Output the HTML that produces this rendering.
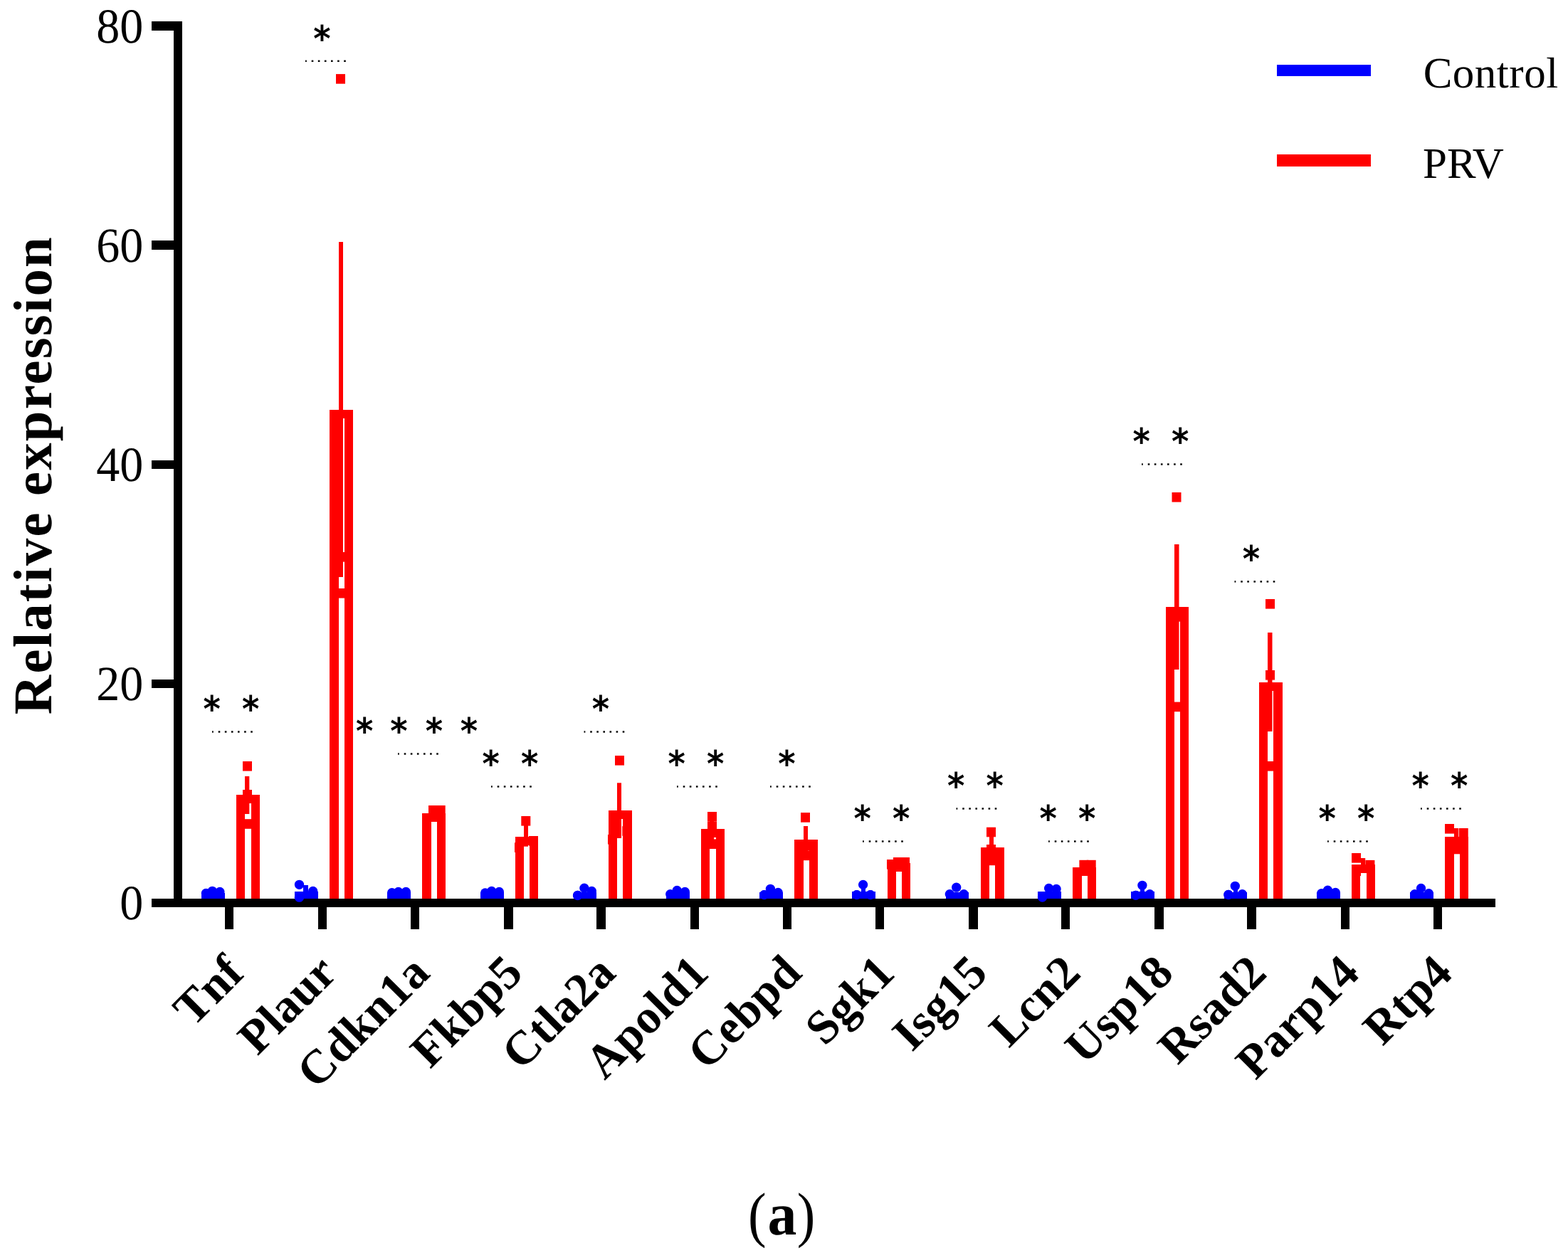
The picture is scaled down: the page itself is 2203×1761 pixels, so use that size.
<!DOCTYPE html>
<html lang="en"><head><meta charset="utf-8"><title>Relative expression</title>
<style>
html,body{margin:0;padding:0;background:#fff;}
body{width:2203px;height:1761px;overflow:hidden;font-family:'Liberation Serif',serif;}
svg{display:block;}
</style></head>
<body>
<svg width="2203" height="1761" viewBox="0 0 2203 1761" shape-rendering="crispEdges" text-rendering="geometricPrecision">
<rect width="2203" height="1761" fill="#fff"/>
<g id="bars">
<rect x="283" y="1255" width="33" height="8" fill="#0000ff"/>
<circle cx="289.4" cy="1255.5" r="6.65" fill="#0000ff" shape-rendering="geometricPrecision"/>
<circle cx="298.3" cy="1252.3" r="6.65" fill="#0000ff" shape-rendering="geometricPrecision"/>
<circle cx="308.9" cy="1253.4" r="6.65" fill="#0000ff" shape-rendering="geometricPrecision"/>
<rect x="332" y="1117" width="33" height="146" fill="#ff0000"/>
<rect x="344" y="1129" width="9" height="134" fill="#fff"/>
<rect x="344" y="1091" width="6.3" height="53" fill="#ff0000" shape-rendering="geometricPrecision"/>
<rect x="341" y="1070" width="13" height="13.6" fill="#ff0000" shape-rendering="geometricPrecision"/>
<rect x="341" y="1110" width="13" height="13.6" fill="#ff0000" shape-rendering="geometricPrecision"/>
<rect x="341" y="1151.2" width="13" height="13.6" fill="#ff0000" shape-rendering="geometricPrecision"/>
<rect x="414" y="1253" width="33" height="10" fill="#0000ff"/>
<rect x="426" y="1244" width="7" height="10" fill="#0000ff"/>
<circle cx="420.5" cy="1243.3" r="6.65" fill="#0000ff" shape-rendering="geometricPrecision"/>
<circle cx="439.7" cy="1252.4" r="6.65" fill="#0000ff" shape-rendering="geometricPrecision"/>
<circle cx="420.5" cy="1261.2" r="6.65" fill="#0000ff" shape-rendering="geometricPrecision"/>
<rect x="463" y="576" width="33" height="687" fill="#ff0000"/>
<rect x="476" y="588" width="8" height="675" fill="#fff"/>
<rect x="476" y="340" width="6" height="471" fill="#ff0000" shape-rendering="geometricPrecision"/>
<rect x="472" y="104.1" width="13" height="13.6" fill="#ff0000" shape-rendering="geometricPrecision"/>
<rect x="472.5" y="776" width="13" height="13.6" fill="#ff0000" shape-rendering="geometricPrecision"/>
<rect x="472.5" y="827" width="13" height="13.6" fill="#ff0000" shape-rendering="geometricPrecision"/>
<rect x="544" y="1254" width="33" height="9" fill="#0000ff"/>
<circle cx="550.65" cy="1254.6" r="6.65" fill="#0000ff" shape-rendering="geometricPrecision"/>
<circle cx="559.7" cy="1253.5" r="6.65" fill="#0000ff" shape-rendering="geometricPrecision"/>
<circle cx="570.35" cy="1253.5" r="6.65" fill="#0000ff" shape-rendering="geometricPrecision"/>
<rect x="593" y="1143" width="33" height="120" fill="#ff0000"/>
<rect x="606" y="1155" width="8" height="108" fill="#fff"/>
<rect x="602" y="1132" width="13" height="13.6" fill="#ff0000" shape-rendering="geometricPrecision"/>
<rect x="612.7" y="1132" width="13" height="13.6" fill="#ff0000" shape-rendering="geometricPrecision"/>
<rect x="607" y="1134" width="13" height="13.6" fill="#ff0000" shape-rendering="geometricPrecision"/>
<rect x="675" y="1254" width="33" height="9" fill="#0000ff"/>
<circle cx="681.65" cy="1255" r="6.65" fill="#0000ff" shape-rendering="geometricPrecision"/>
<circle cx="690.7" cy="1252.4" r="6.65" fill="#0000ff" shape-rendering="geometricPrecision"/>
<circle cx="701.35" cy="1253.5" r="6.65" fill="#0000ff" shape-rendering="geometricPrecision"/>
<rect x="724" y="1176" width="32" height="87" fill="#ff0000"/>
<rect x="736" y="1188" width="8" height="75" fill="#fff"/>
<rect x="736" y="1160" width="6" height="29.7" fill="#ff0000" shape-rendering="geometricPrecision"/>
<rect x="732.3" y="1147" width="13" height="13.6" fill="#ff0000" shape-rendering="geometricPrecision"/>
<rect x="723" y="1184.3" width="13" height="13.6" fill="#ff0000" shape-rendering="geometricPrecision"/>
<rect x="743" y="1175" width="13" height="13.6" fill="#ff0000" shape-rendering="geometricPrecision"/>
<rect x="806" y="1254" width="32" height="9" fill="#0000ff"/>
<circle cx="811.6" cy="1258.5" r="6.65" fill="#0000ff" shape-rendering="geometricPrecision"/>
<circle cx="820.9" cy="1248.2" r="6.65" fill="#0000ff" shape-rendering="geometricPrecision"/>
<circle cx="831.35" cy="1252.4" r="6.65" fill="#0000ff" shape-rendering="geometricPrecision"/>
<rect x="855" y="1139" width="33" height="124" fill="#ff0000"/>
<rect x="867" y="1151" width="8" height="112" fill="#fff"/>
<rect x="867" y="1100.3" width="6" height="77.7" fill="#ff0000" shape-rendering="geometricPrecision"/>
<rect x="864" y="1062" width="13" height="13.6" fill="#ff0000" shape-rendering="geometricPrecision"/>
<rect x="854" y="1173" width="13" height="13.6" fill="#ff0000" shape-rendering="geometricPrecision"/>
<rect x="874.3" y="1161.2" width="13" height="13.6" fill="#ff0000" shape-rendering="geometricPrecision"/>
<rect x="936" y="1254" width="33" height="9" fill="#0000ff"/>
<circle cx="941.7" cy="1256.6" r="6.65" fill="#0000ff" shape-rendering="geometricPrecision"/>
<circle cx="951.2" cy="1251.4" r="6.65" fill="#0000ff" shape-rendering="geometricPrecision"/>
<circle cx="962.35" cy="1253.5" r="6.65" fill="#0000ff" shape-rendering="geometricPrecision"/>
<rect x="985" y="1165" width="33" height="98" fill="#ff0000"/>
<rect x="997" y="1177" width="9" height="86" fill="#fff"/>
<rect x="997" y="1150" width="6" height="31" fill="#ff0000" shape-rendering="geometricPrecision"/>
<rect x="994" y="1141" width="13" height="13.6" fill="#ff0000" shape-rendering="geometricPrecision"/>
<rect x="994" y="1154.6" width="13" height="13.6" fill="#ff0000" shape-rendering="geometricPrecision"/>
<rect x="994" y="1179.4" width="13" height="13.6" fill="#ff0000" shape-rendering="geometricPrecision"/>
<rect x="1067" y="1254" width="33" height="9" fill="#0000ff"/>
<circle cx="1073.7" cy="1257.6" r="6.65" fill="#0000ff" shape-rendering="geometricPrecision"/>
<circle cx="1082.4" cy="1249.3" r="6.65" fill="#0000ff" shape-rendering="geometricPrecision"/>
<circle cx="1093.2" cy="1254.5" r="6.65" fill="#0000ff" shape-rendering="geometricPrecision"/>
<rect x="1116" y="1180" width="33" height="83" fill="#ff0000"/>
<rect x="1129" y="1192" width="8" height="71" fill="#fff"/>
<rect x="1129" y="1161" width="6" height="38" fill="#ff0000" shape-rendering="geometricPrecision"/>
<rect x="1125" y="1142.1" width="13" height="13.6" fill="#ff0000" shape-rendering="geometricPrecision"/>
<rect x="1125" y="1182" width="13" height="13.6" fill="#ff0000" shape-rendering="geometricPrecision"/>
<rect x="1125" y="1195.6" width="13" height="13.6" fill="#ff0000" shape-rendering="geometricPrecision"/>
<rect x="1197" y="1253" width="33" height="10" fill="#0000ff"/>
<rect x="1210" y="1244" width="6" height="10" fill="#0000ff"/>
<circle cx="1203.7" cy="1257.6" r="6.65" fill="#0000ff" shape-rendering="geometricPrecision"/>
<circle cx="1212.6" cy="1243.4" r="6.65" fill="#0000ff" shape-rendering="geometricPrecision"/>
<circle cx="1222.9" cy="1257.6" r="6.65" fill="#0000ff" shape-rendering="geometricPrecision"/>
<rect x="1247" y="1213" width="32" height="50" fill="#ff0000"/>
<rect x="1259" y="1225" width="8" height="38" fill="#fff"/>
<rect x="1246" y="1208" width="13" height="13.6" fill="#ff0000" shape-rendering="geometricPrecision"/>
<rect x="1255" y="1205" width="13" height="13.6" fill="#ff0000" shape-rendering="geometricPrecision"/>
<rect x="1265" y="1205" width="13" height="13.6" fill="#ff0000" shape-rendering="geometricPrecision"/>
<rect x="1329" y="1254" width="32" height="9" fill="#0000ff"/>
<circle cx="1334.3" cy="1256.6" r="6.65" fill="#0000ff" shape-rendering="geometricPrecision"/>
<circle cx="1343.7" cy="1247.2" r="6.65" fill="#0000ff" shape-rendering="geometricPrecision"/>
<circle cx="1354.2" cy="1256.6" r="6.65" fill="#0000ff" shape-rendering="geometricPrecision"/>
<rect x="1378" y="1191" width="33" height="72" fill="#ff0000"/>
<rect x="1390" y="1203" width="8" height="60" fill="#fff"/>
<rect x="1390" y="1175" width="6" height="32" fill="#ff0000" shape-rendering="geometricPrecision"/>
<rect x="1386" y="1162.7" width="13" height="13.6" fill="#ff0000" shape-rendering="geometricPrecision"/>
<rect x="1386" y="1187" width="13" height="13.6" fill="#ff0000" shape-rendering="geometricPrecision"/>
<rect x="1386" y="1202.6" width="13" height="13.6" fill="#ff0000" shape-rendering="geometricPrecision"/>
<rect x="1458" y="1253" width="33" height="10" fill="#0000ff"/>
<circle cx="1473.6" cy="1248.5" r="6.65" fill="#0000ff" shape-rendering="geometricPrecision"/>
<circle cx="1484.1" cy="1249.5" r="6.65" fill="#0000ff" shape-rendering="geometricPrecision"/>
<circle cx="1464.5" cy="1261.1" r="6.65" fill="#0000ff" shape-rendering="geometricPrecision"/>
<rect x="1507" y="1219" width="33" height="44" fill="#ff0000"/>
<rect x="1520" y="1231" width="8" height="32" fill="#fff"/>
<rect x="1516.4" y="1208.8" width="13" height="13.6" fill="#ff0000" shape-rendering="geometricPrecision"/>
<rect x="1526.7" y="1208.8" width="13" height="13.6" fill="#ff0000" shape-rendering="geometricPrecision"/>
<rect x="1507" y="1219.4" width="13" height="13.6" fill="#ff0000" shape-rendering="geometricPrecision"/>
<rect x="1589" y="1253" width="33" height="10" fill="#0000ff"/>
<rect x="1602" y="1246" width="6" height="8" fill="#0000ff"/>
<circle cx="1595.7" cy="1258.3" r="6.65" fill="#0000ff" shape-rendering="geometricPrecision"/>
<circle cx="1604.9" cy="1244.3" r="6.65" fill="#0000ff" shape-rendering="geometricPrecision"/>
<circle cx="1615.4" cy="1256.6" r="6.65" fill="#0000ff" shape-rendering="geometricPrecision"/>
<rect x="1638" y="853" width="32" height="410" fill="#ff0000"/>
<rect x="1650" y="865" width="8" height="398" fill="#fff"/>
<rect x="1650" y="765" width="6.5" height="176" fill="#ff0000" shape-rendering="geometricPrecision"/>
<rect x="1646.5" y="692" width="13" height="13.6" fill="#ff0000" shape-rendering="geometricPrecision"/>
<rect x="1647" y="860" width="13" height="13.6" fill="#ff0000" shape-rendering="geometricPrecision"/>
<rect x="1647" y="986.6" width="13" height="13.6" fill="#ff0000" shape-rendering="geometricPrecision"/>
<rect x="1720" y="1254" width="32" height="9" fill="#0000ff"/>
<rect x="1732.5" y="1247" width="6" height="8" fill="#0000ff"/>
<circle cx="1725.9" cy="1257.5" r="6.65" fill="#0000ff" shape-rendering="geometricPrecision"/>
<circle cx="1735.3" cy="1245.3" r="6.65" fill="#0000ff" shape-rendering="geometricPrecision"/>
<circle cx="1745.4" cy="1256.6" r="6.65" fill="#0000ff" shape-rendering="geometricPrecision"/>
<rect x="1769" y="959" width="33" height="304" fill="#ff0000"/>
<rect x="1781" y="971" width="8" height="292" fill="#fff"/>
<rect x="1781" y="889" width="6.5" height="139" fill="#ff0000" shape-rendering="geometricPrecision"/>
<rect x="1778" y="842" width="13" height="13.6" fill="#ff0000" shape-rendering="geometricPrecision"/>
<rect x="1778" y="942" width="13" height="13.6" fill="#ff0000" shape-rendering="geometricPrecision"/>
<rect x="1778" y="1070" width="13" height="13.6" fill="#ff0000" shape-rendering="geometricPrecision"/>
<rect x="1850" y="1254" width="33" height="9" fill="#0000ff"/>
<circle cx="1856.6" cy="1255.6" r="6.65" fill="#0000ff" shape-rendering="geometricPrecision"/>
<circle cx="1865.4" cy="1251.2" r="6.65" fill="#0000ff" shape-rendering="geometricPrecision"/>
<circle cx="1876.3" cy="1254.5" r="6.65" fill="#0000ff" shape-rendering="geometricPrecision"/>
<rect x="1899" y="1215" width="33" height="48" fill="#ff0000"/>
<rect x="1911" y="1227" width="9" height="36" fill="#fff"/>
<rect x="1912" y="1206" width="6.2" height="16" fill="#ff0000" shape-rendering="geometricPrecision"/>
<rect x="1899" y="1199" width="13" height="13.6" fill="#ff0000" shape-rendering="geometricPrecision"/>
<rect x="1918.4" y="1208.9" width="13" height="13.6" fill="#ff0000" shape-rendering="geometricPrecision"/>
<rect x="1899" y="1217.5" width="13" height="13.6" fill="#ff0000" shape-rendering="geometricPrecision"/>
<rect x="1981" y="1254" width="33" height="9" fill="#0000ff"/>
<circle cx="1987.65" cy="1256.7" r="6.65" fill="#0000ff" shape-rendering="geometricPrecision"/>
<circle cx="1996.5" cy="1248.4" r="6.65" fill="#0000ff" shape-rendering="geometricPrecision"/>
<circle cx="2007.35" cy="1255.7" r="6.65" fill="#0000ff" shape-rendering="geometricPrecision"/>
<rect x="2030" y="1176" width="33" height="87" fill="#ff0000"/>
<rect x="2043" y="1188" width="8" height="75" fill="#fff"/>
<rect x="2043" y="1164" width="6" height="26" fill="#ff0000" shape-rendering="geometricPrecision"/>
<rect x="2030" y="1158" width="13" height="13.6" fill="#ff0000" shape-rendering="geometricPrecision"/>
<rect x="2049.7" y="1164" width="13" height="13.6" fill="#ff0000" shape-rendering="geometricPrecision"/>
<rect x="2040" y="1186.7" width="13" height="13.6" fill="#ff0000" shape-rendering="geometricPrecision"/>
</g>
<g id="axes" fill="#000">
<rect x="244" y="30" width="12" height="1245"/>
<rect x="213" y="1263" width="1888" height="12"/>
<rect x="213" y="30" width="32" height="13"/>
<rect x="213" y="338" width="32" height="13"/>
<rect x="213" y="647" width="32" height="12"/>
<rect x="213" y="955" width="32" height="12"/>
<rect x="316" y="1274" width="12" height="32"/>
<rect x="447" y="1274" width="12" height="32"/>
<rect x="577" y="1274" width="12" height="32"/>
<rect x="708" y="1274" width="13" height="32"/>
<rect x="838" y="1274" width="13" height="32"/>
<rect x="970" y="1274" width="12" height="32"/>
<rect x="1100" y="1274" width="12" height="32"/>
<rect x="1230" y="1274" width="12" height="32"/>
<rect x="1361" y="1274" width="13" height="32"/>
<rect x="1491" y="1274" width="12" height="32"/>
<rect x="1622" y="1274" width="13" height="32"/>
<rect x="1752" y="1274" width="13" height="32"/>
<rect x="1884" y="1274" width="12" height="32"/>
<rect x="2014" y="1274" width="12" height="32"/>
</g>
<g id="front">
<circle cx="420.5" cy="1261.2" r="6.65" fill="#0000ff" shape-rendering="geometricPrecision"/>
<circle cx="811.6" cy="1258.5" r="6.65" fill="#0000ff" shape-rendering="geometricPrecision"/>
<circle cx="1073.7" cy="1257.6" r="6.65" fill="#0000ff" shape-rendering="geometricPrecision"/>
<circle cx="1203.7" cy="1257.6" r="6.65" fill="#0000ff" shape-rendering="geometricPrecision"/>
<circle cx="1222.9" cy="1257.6" r="6.65" fill="#0000ff" shape-rendering="geometricPrecision"/>
<circle cx="1464.5" cy="1261.1" r="6.65" fill="#0000ff" shape-rendering="geometricPrecision"/>
<circle cx="1595.7" cy="1258.3" r="6.65" fill="#0000ff" shape-rendering="geometricPrecision"/>
<circle cx="1725.9" cy="1257.5" r="6.65" fill="#0000ff" shape-rendering="geometricPrecision"/>
</g>
<g id="ylabels" font-family="'Liberation Serif','Times New Roman',Times,serif" font-size="69" text-anchor="end" fill="#000">
<text transform="translate(201.2,1291.6) scale(0.957,1)">0</text>
<text transform="translate(201.2,983.9) scale(0.957,1)">20</text>
<text transform="translate(201.2,675.7) scale(0.957,1)">40</text>
<text transform="translate(201.2,367.9) scale(0.957,1)">60</text>
<text transform="translate(201.2,60.2) scale(0.957,1)">80</text>
</g>
<text transform="translate(71.5,667.7) rotate(-90)" font-family="'Liberation Serif','Times New Roman',Times,serif" font-weight="bold" font-size="76.7" letter-spacing="2.2" text-anchor="middle" fill="#000">Relative expression</text>
<g id="xlabels" font-family="'Liberation Serif','Times New Roman',Times,serif" font-weight="bold" font-size="67" letter-spacing="0.4" text-anchor="end" fill="#000">
<text transform="translate(345.6,1370.2) rotate(-45)">Tnf</text>
<text transform="translate(476.22,1370.2) rotate(-45)">Plaur</text>
<text transform="translate(606.84,1370.2) rotate(-45)">Cdkn1a</text>
<text transform="translate(737.46,1370.2) rotate(-45)">Fkbp5</text>
<text transform="translate(868.08,1370.2) rotate(-45)">Ctla2a</text>
<text transform="translate(998.7,1370.2) rotate(-45)">Apold1</text>
<text transform="translate(1129.32,1370.2) rotate(-45)">Cebpd</text>
<text transform="translate(1259.94,1370.2) rotate(-45)">Sgk1</text>
<text transform="translate(1390.56,1370.2) rotate(-45)">Isg15</text>
<text transform="translate(1521.18,1370.2) rotate(-45)">Lcn2</text>
<text transform="translate(1651.8,1370.2) rotate(-45)">Usp18</text>
<text transform="translate(1782.42,1370.2) rotate(-45)">Rsad2</text>
<text transform="translate(1913.04,1370.2) rotate(-45)">Parp14</text>
<text transform="translate(2043.66,1370.2) rotate(-45)">Rtp4</text>
</g>
<g id="sig" font-family="'DejaVu Sans',sans-serif" font-weight="bold" font-size="48" text-anchor="middle" fill="#000">
<text transform="translate(297.75,1014.3) scale(0.97,1.05)">*</text>
<text transform="translate(352.05,1014.3) scale(0.97,1.05)">*</text>
<rect x="298" y="1027.3" width="1.8" height="2.4" shape-rendering="geometricPrecision"/>
<rect x="306.7" y="1027.3" width="2.6" height="2.4" shape-rendering="geometricPrecision"/>
<rect x="315.8" y="1027.3" width="2.6" height="2.4" shape-rendering="geometricPrecision"/>
<rect x="324.9" y="1027.3" width="2.6" height="2.4" shape-rendering="geometricPrecision"/>
<rect x="334" y="1027.3" width="2.6" height="2.4" shape-rendering="geometricPrecision"/>
<rect x="343.1" y="1027.3" width="2.6" height="2.4" shape-rendering="geometricPrecision"/>
<rect x="352.2" y="1027.3" width="2.6" height="2.4" shape-rendering="geometricPrecision"/>
<text transform="translate(452.5,71.6) scale(0.97,1.05)">*</text>
<rect x="429" y="84.6" width="1.8" height="2.4" shape-rendering="geometricPrecision"/>
<rect x="437.7" y="84.6" width="2.6" height="2.4" shape-rendering="geometricPrecision"/>
<rect x="446.8" y="84.6" width="2.6" height="2.4" shape-rendering="geometricPrecision"/>
<rect x="455.9" y="84.6" width="2.6" height="2.4" shape-rendering="geometricPrecision"/>
<rect x="465" y="84.6" width="2.6" height="2.4" shape-rendering="geometricPrecision"/>
<rect x="474.1" y="84.6" width="2.6" height="2.4" shape-rendering="geometricPrecision"/>
<rect x="483.2" y="84.6" width="2.6" height="2.4" shape-rendering="geometricPrecision"/>
<text transform="translate(512.2,1045.3) scale(0.97,1.05)">*</text>
<text transform="translate(560.5,1045.3) scale(0.97,1.05)">*</text>
<text transform="translate(609.9,1045.3) scale(0.97,1.05)">*</text>
<text transform="translate(658.9,1045.3) scale(0.97,1.05)">*</text>
<rect x="559" y="1058.3" width="1.8" height="2.4" shape-rendering="geometricPrecision"/>
<rect x="567.7" y="1058.3" width="2.6" height="2.4" shape-rendering="geometricPrecision"/>
<rect x="576.8" y="1058.3" width="2.6" height="2.4" shape-rendering="geometricPrecision"/>
<rect x="585.9" y="1058.3" width="2.6" height="2.4" shape-rendering="geometricPrecision"/>
<rect x="595" y="1058.3" width="2.6" height="2.4" shape-rendering="geometricPrecision"/>
<rect x="604.1" y="1058.3" width="2.6" height="2.4" shape-rendering="geometricPrecision"/>
<rect x="613.2" y="1058.3" width="2.6" height="2.4" shape-rendering="geometricPrecision"/>
<text transform="translate(689.75,1091.3) scale(0.97,1.05)">*</text>
<text transform="translate(744.05,1091.3) scale(0.97,1.05)">*</text>
<rect x="690" y="1104.3" width="1.8" height="2.4" shape-rendering="geometricPrecision"/>
<rect x="698.7" y="1104.3" width="2.6" height="2.4" shape-rendering="geometricPrecision"/>
<rect x="707.8" y="1104.3" width="2.6" height="2.4" shape-rendering="geometricPrecision"/>
<rect x="716.9" y="1104.3" width="2.6" height="2.4" shape-rendering="geometricPrecision"/>
<rect x="726" y="1104.3" width="2.6" height="2.4" shape-rendering="geometricPrecision"/>
<rect x="735.1" y="1104.3" width="2.6" height="2.4" shape-rendering="geometricPrecision"/>
<rect x="744.2" y="1104.3" width="2.6" height="2.4" shape-rendering="geometricPrecision"/>
<text transform="translate(844,1014.3) scale(0.97,1.05)">*</text>
<rect x="820.5" y="1027.3" width="1.8" height="2.4" shape-rendering="geometricPrecision"/>
<rect x="829.2" y="1027.3" width="2.6" height="2.4" shape-rendering="geometricPrecision"/>
<rect x="838.3" y="1027.3" width="2.6" height="2.4" shape-rendering="geometricPrecision"/>
<rect x="847.4" y="1027.3" width="2.6" height="2.4" shape-rendering="geometricPrecision"/>
<rect x="856.5" y="1027.3" width="2.6" height="2.4" shape-rendering="geometricPrecision"/>
<rect x="865.6" y="1027.3" width="2.6" height="2.4" shape-rendering="geometricPrecision"/>
<rect x="874.7" y="1027.3" width="2.6" height="2.4" shape-rendering="geometricPrecision"/>
<text transform="translate(950.75,1091.3) scale(0.97,1.05)">*</text>
<text transform="translate(1005.05,1091.3) scale(0.97,1.05)">*</text>
<rect x="951" y="1104.3" width="1.8" height="2.4" shape-rendering="geometricPrecision"/>
<rect x="959.7" y="1104.3" width="2.6" height="2.4" shape-rendering="geometricPrecision"/>
<rect x="968.8" y="1104.3" width="2.6" height="2.4" shape-rendering="geometricPrecision"/>
<rect x="977.9" y="1104.3" width="2.6" height="2.4" shape-rendering="geometricPrecision"/>
<rect x="987" y="1104.3" width="2.6" height="2.4" shape-rendering="geometricPrecision"/>
<rect x="996.1" y="1104.3" width="2.6" height="2.4" shape-rendering="geometricPrecision"/>
<rect x="1005.2" y="1104.3" width="2.6" height="2.4" shape-rendering="geometricPrecision"/>
<text transform="translate(1105.5,1091.3) scale(0.97,1.05)">*</text>
<rect x="1082" y="1104.3" width="1.8" height="2.4" shape-rendering="geometricPrecision"/>
<rect x="1090.7" y="1104.3" width="2.6" height="2.4" shape-rendering="geometricPrecision"/>
<rect x="1099.8" y="1104.3" width="2.6" height="2.4" shape-rendering="geometricPrecision"/>
<rect x="1108.9" y="1104.3" width="2.6" height="2.4" shape-rendering="geometricPrecision"/>
<rect x="1118" y="1104.3" width="2.6" height="2.4" shape-rendering="geometricPrecision"/>
<rect x="1127.1" y="1104.3" width="2.6" height="2.4" shape-rendering="geometricPrecision"/>
<rect x="1136.2" y="1104.3" width="2.6" height="2.4" shape-rendering="geometricPrecision"/>
<text transform="translate(1211.75,1168.3) scale(0.97,1.05)">*</text>
<text transform="translate(1266.05,1168.3) scale(0.97,1.05)">*</text>
<rect x="1212" y="1181.3" width="1.8" height="2.4" shape-rendering="geometricPrecision"/>
<rect x="1220.7" y="1181.3" width="2.6" height="2.4" shape-rendering="geometricPrecision"/>
<rect x="1229.8" y="1181.3" width="2.6" height="2.4" shape-rendering="geometricPrecision"/>
<rect x="1238.9" y="1181.3" width="2.6" height="2.4" shape-rendering="geometricPrecision"/>
<rect x="1248" y="1181.3" width="2.6" height="2.4" shape-rendering="geometricPrecision"/>
<rect x="1257.1" y="1181.3" width="2.6" height="2.4" shape-rendering="geometricPrecision"/>
<rect x="1266.2" y="1181.3" width="2.6" height="2.4" shape-rendering="geometricPrecision"/>
<text transform="translate(1343.25,1122.3) scale(0.97,1.05)">*</text>
<text transform="translate(1397.55,1122.3) scale(0.97,1.05)">*</text>
<rect x="1343.5" y="1135.3" width="1.8" height="2.4" shape-rendering="geometricPrecision"/>
<rect x="1352.2" y="1135.3" width="2.6" height="2.4" shape-rendering="geometricPrecision"/>
<rect x="1361.3" y="1135.3" width="2.6" height="2.4" shape-rendering="geometricPrecision"/>
<rect x="1370.4" y="1135.3" width="2.6" height="2.4" shape-rendering="geometricPrecision"/>
<rect x="1379.5" y="1135.3" width="2.6" height="2.4" shape-rendering="geometricPrecision"/>
<rect x="1388.6" y="1135.3" width="2.6" height="2.4" shape-rendering="geometricPrecision"/>
<rect x="1397.7" y="1135.3" width="2.6" height="2.4" shape-rendering="geometricPrecision"/>
<text transform="translate(1472.75,1168.3) scale(0.97,1.05)">*</text>
<text transform="translate(1527.05,1168.3) scale(0.97,1.05)">*</text>
<rect x="1473" y="1181.3" width="1.8" height="2.4" shape-rendering="geometricPrecision"/>
<rect x="1481.7" y="1181.3" width="2.6" height="2.4" shape-rendering="geometricPrecision"/>
<rect x="1490.8" y="1181.3" width="2.6" height="2.4" shape-rendering="geometricPrecision"/>
<rect x="1499.9" y="1181.3" width="2.6" height="2.4" shape-rendering="geometricPrecision"/>
<rect x="1509" y="1181.3" width="2.6" height="2.4" shape-rendering="geometricPrecision"/>
<rect x="1518.1" y="1181.3" width="2.6" height="2.4" shape-rendering="geometricPrecision"/>
<rect x="1527.2" y="1181.3" width="2.6" height="2.4" shape-rendering="geometricPrecision"/>
<text transform="translate(1603.75,638.3) scale(0.97,1.05)">*</text>
<text transform="translate(1658.05,638.3) scale(0.97,1.05)">*</text>
<rect x="1604" y="651.3" width="1.8" height="2.4" shape-rendering="geometricPrecision"/>
<rect x="1612.7" y="651.3" width="2.6" height="2.4" shape-rendering="geometricPrecision"/>
<rect x="1621.8" y="651.3" width="2.6" height="2.4" shape-rendering="geometricPrecision"/>
<rect x="1630.9" y="651.3" width="2.6" height="2.4" shape-rendering="geometricPrecision"/>
<rect x="1640" y="651.3" width="2.6" height="2.4" shape-rendering="geometricPrecision"/>
<rect x="1649.1" y="651.3" width="2.6" height="2.4" shape-rendering="geometricPrecision"/>
<rect x="1658.2" y="651.3" width="2.6" height="2.4" shape-rendering="geometricPrecision"/>
<text transform="translate(1758,803.2) scale(0.97,1.05)">*</text>
<rect x="1734.5" y="816.2" width="1.8" height="2.4" shape-rendering="geometricPrecision"/>
<rect x="1743.2" y="816.2" width="2.6" height="2.4" shape-rendering="geometricPrecision"/>
<rect x="1752.3" y="816.2" width="2.6" height="2.4" shape-rendering="geometricPrecision"/>
<rect x="1761.4" y="816.2" width="2.6" height="2.4" shape-rendering="geometricPrecision"/>
<rect x="1770.5" y="816.2" width="2.6" height="2.4" shape-rendering="geometricPrecision"/>
<rect x="1779.6" y="816.2" width="2.6" height="2.4" shape-rendering="geometricPrecision"/>
<rect x="1788.7" y="816.2" width="2.6" height="2.4" shape-rendering="geometricPrecision"/>
<text transform="translate(1864.75,1168.3) scale(0.97,1.05)">*</text>
<text transform="translate(1919.05,1168.3) scale(0.97,1.05)">*</text>
<rect x="1865" y="1181.3" width="1.8" height="2.4" shape-rendering="geometricPrecision"/>
<rect x="1873.7" y="1181.3" width="2.6" height="2.4" shape-rendering="geometricPrecision"/>
<rect x="1882.8" y="1181.3" width="2.6" height="2.4" shape-rendering="geometricPrecision"/>
<rect x="1891.9" y="1181.3" width="2.6" height="2.4" shape-rendering="geometricPrecision"/>
<rect x="1901" y="1181.3" width="2.6" height="2.4" shape-rendering="geometricPrecision"/>
<rect x="1910.1" y="1181.3" width="2.6" height="2.4" shape-rendering="geometricPrecision"/>
<rect x="1919.2" y="1181.3" width="2.6" height="2.4" shape-rendering="geometricPrecision"/>
<text transform="translate(1995.75,1122.3) scale(0.97,1.05)">*</text>
<text transform="translate(2050.05,1122.3) scale(0.97,1.05)">*</text>
<rect x="1996" y="1135.3" width="1.8" height="2.4" shape-rendering="geometricPrecision"/>
<rect x="2004.7" y="1135.3" width="2.6" height="2.4" shape-rendering="geometricPrecision"/>
<rect x="2013.8" y="1135.3" width="2.6" height="2.4" shape-rendering="geometricPrecision"/>
<rect x="2022.9" y="1135.3" width="2.6" height="2.4" shape-rendering="geometricPrecision"/>
<rect x="2032" y="1135.3" width="2.6" height="2.4" shape-rendering="geometricPrecision"/>
<rect x="2041.1" y="1135.3" width="2.6" height="2.4" shape-rendering="geometricPrecision"/>
<rect x="2050.2" y="1135.3" width="2.6" height="2.4" shape-rendering="geometricPrecision"/>
</g>
<rect x="1794" y="91" width="132" height="16" fill="#0000ff"/>
<rect x="1794" y="217" width="132" height="17" fill="#ff0000"/>
<g id="legend" font-family="'Liberation Serif','Times New Roman',Times,serif" font-size="61" fill="#000">
<text x="1999.7" y="123.3" letter-spacing="0.5">Control</text>
<text x="1999" y="250">PRV</text>
</g>
<g id="caption" font-family="'Liberation Serif','Times New Roman',Times,serif" font-size="86" fill="#000">
<text transform="translate(1076.6,1736) scale(0.893,1)" text-anchor="end">(</text>
<text transform="translate(1098.9,1734.8) scale(0.95,0.985)" text-anchor="middle" font-weight="bold">a</text>
<text transform="translate(1119.7,1736) scale(0.893,1)">)</text>
</g>
</svg>
</body></html>
